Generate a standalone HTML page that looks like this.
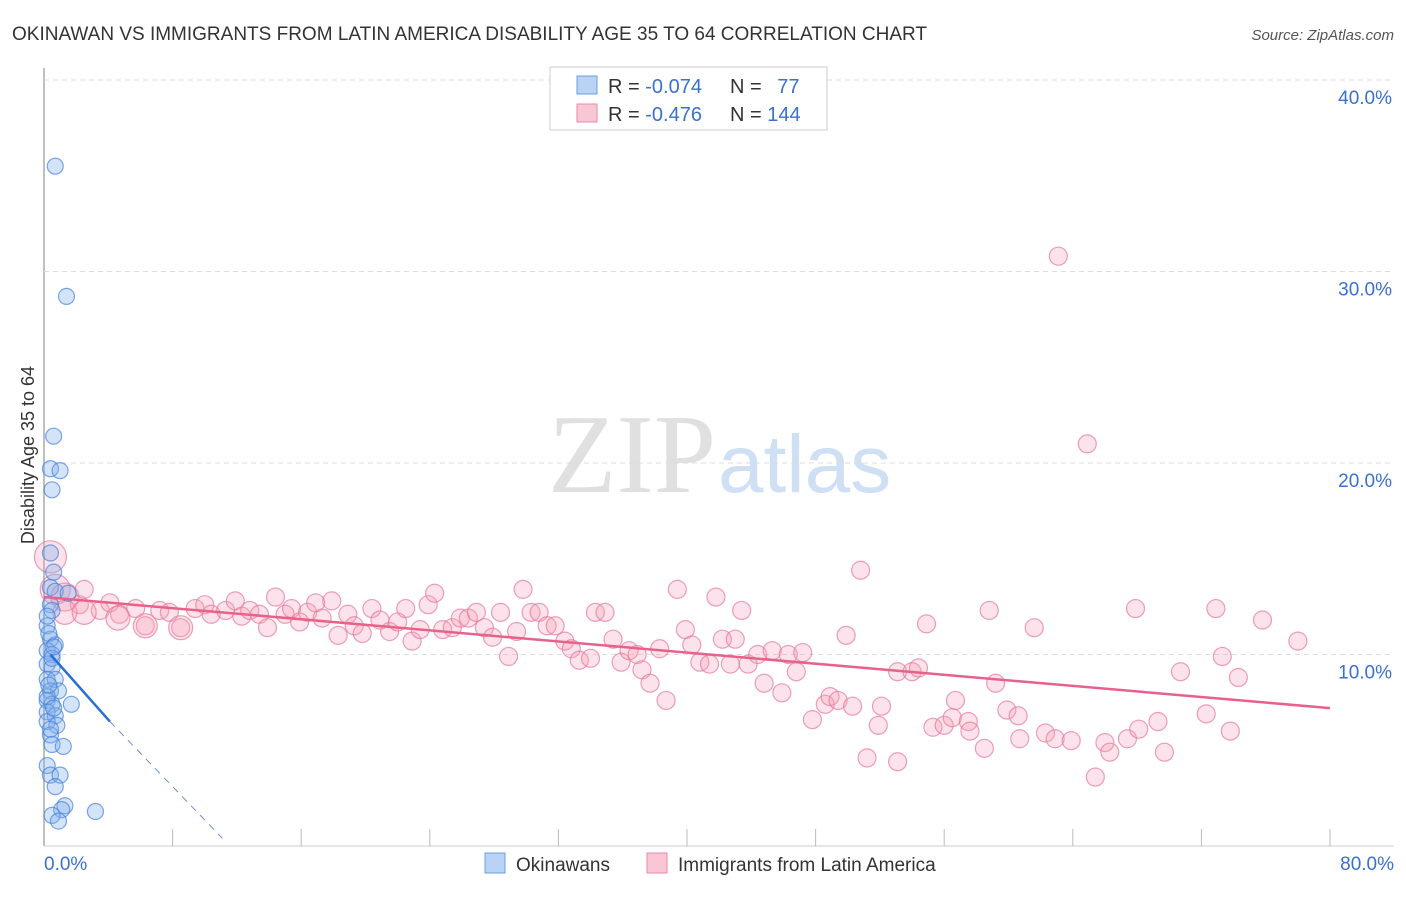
<!DOCTYPE html>
<html><head><meta charset="utf-8"><style>
body{margin:0;background:#fff;font-family:"Liberation Sans",sans-serif}
svg text{font-family:"Liberation Sans",sans-serif}
</style></head><body>
<svg id="c" width="1406" height="892" xmlns="http://www.w3.org/2000/svg">
<text x="12" y="40" font-size="19" fill="#333">OKINAWAN VS IMMIGRANTS FROM LATIN AMERICA DISABILITY AGE 35 TO 64 CORRELATION CHART</text>
<text x="1394" y="40" font-size="15" fill="#555" font-style="italic" text-anchor="end">Source: ZipAtlas.com</text>
<text x="716" y="492" font-size="112" fill="#e0e0e0" text-anchor="end" style="font-family:'Liberation Serif',serif">ZIP</text>
<text x="718" y="492" font-size="82" fill="#cfe0f4">atlas</text>
<text transform="translate(34,455) rotate(-90)" font-size="18" fill="#333" text-anchor="middle">Disability Age 35 to 64</text>
<g id="grid"></g><g id="pts"></g><g id="lines"></g>
<g>
<rect x="550" y="67" width="277" height="63" fill="#fff" stroke="#ccc"/>
<rect x="577" y="76" width="20" height="18" fill="#b8d3f5" stroke="#6d9de0"/>
<rect x="577" y="104" width="20" height="18" fill="#f8c6d4" stroke="#e88aa8"/>
<text x="608" y="93" font-size="20" fill="#333">R = <tspan fill="#3a70d0">-0.074</tspan></text>
<text x="730" y="93" font-size="20" fill="#333">N = <tspan fill="#3a70d0" dx="10">77</tspan></text>
<text x="608" y="121" font-size="20" fill="#333">R = <tspan fill="#3a70d0">-0.476</tspan></text>
<text x="730" y="121" font-size="20" fill="#333">N = <tspan fill="#3a70d0">144</tspan></text>
</g>
<g>
<rect x="485" y="853" width="20" height="20" fill="#b8d3f5" stroke="#6d9de0"/>
<text x="516" y="871" font-size="19" fill="#333">Okinawans</text>
<rect x="647" y="853" width="20" height="20" fill="#f8c6d4" stroke="#e88aa8"/>
<text x="678" y="871" font-size="19" fill="#333">Immigrants from Latin America</text>
</g>
</svg>
<script>
const blueX=[0.7,1.4,0.6,0.4,1.0,0.5,0.4,0.6,0.4,0.7,1.5,0.4,0.5,0.2,0.4,0.7,0.2,0.5,0.2,0.5,0.2,0.7,0.4,0.9,0.2,0.5,1.7,0.2,0.7,0.2,0.8,0.4,0.5,1.2,0.2,0.4,1.0,0.7,1.3,1.1,0.5,0.9,3.2,0.3,0.5,0.2,0.6,0.3,0.4,0.6,0.2];
const blueY=[35.5,28.7,21.4,19.7,19.6,18.6,15.3,14.3,13.5,13.3,13.2,12.6,12.3,11.5,10.8,10.5,10.2,10.0,9.5,9.3,8.7,8.7,8.1,8.1,7.6,7.4,7.4,7.0,6.8,6.5,6.3,5.8,5.3,5.2,4.2,3.7,3.7,3.1,2.1,1.9,1.6,1.3,1.8,11.1,9.8,7.8,7.2,8.4,6.1,10.4,12.0];
const pinkX=[0.4,0.7,1.3,2.2,2.5,3.5,4.1,4.7,5.7,6.3,7.2,7.8,8.5,9.4,10.0,10.4,11.3,11.9,12.3,12.8,13.4,13.9,14.4,15.0,15.4,15.9,16.4,16.9,17.3,17.9,18.3,18.9,19.3,19.8,20.4,20.9,21.5,22.0,22.5,22.9,23.4,23.9,24.3,24.8,25.4,25.9,26.4,26.9,27.4,27.9,28.4,28.9,29.4,29.8,30.3,30.8,31.3,31.8,32.4,32.8,33.3,34.0,34.3,34.9,35.4,35.9,36.4,36.9,37.2,37.7,38.3,38.7,39.4,39.9,40.3,40.8,41.4,41.8,42.2,42.7,43.0,43.4,43.8,44.4,44.8,45.3,45.9,46.3,46.8,47.2,47.8,48.6,48.9,49.4,49.9,50.3,50.8,51.2,51.9,52.1,53.1,53.1,54.0,54.4,54.9,55.3,56.0,56.5,56.7,57.5,57.6,58.5,58.8,59.2,59.9,60.6,60.7,61.6,62.3,63.1,62.9,63.9,64.9,65.4,66.0,66.3,67.4,67.9,68.1,69.3,69.7,70.7,72.3,72.9,73.3,73.8,74.3,75.8,78.0,1.3,2.5,4.6,6.3,8.5];
const pinkY=[15.1,13.4,13.0,12.6,13.4,12.3,12.7,12.1,12.4,11.5,12.3,12.2,11.4,12.4,12.6,12.1,12.3,12.8,12.0,12.3,12.1,11.4,13.0,12.1,12.4,11.7,12.2,12.7,11.9,12.8,11.0,12.1,11.5,11.1,12.4,11.8,11.2,11.7,12.4,10.7,11.3,12.6,13.2,11.3,11.4,11.9,11.9,12.2,11.4,10.9,12.2,9.9,11.2,13.4,12.2,12.2,11.5,11.5,10.7,10.3,9.7,9.8,12.2,12.2,10.8,9.6,10.2,10.0,9.2,8.5,10.3,7.6,13.4,11.3,10.5,9.6,9.5,13.0,10.8,9.5,10.8,12.3,9.5,10.0,8.5,10.2,8.0,10.0,9.1,10.1,6.6,7.4,7.8,7.6,11.0,7.3,14.4,4.6,6.3,7.3,9.1,4.4,9.1,9.3,11.6,6.2,6.3,6.7,7.6,6.5,6.0,5.1,12.3,8.5,7.1,6.8,5.6,11.4,5.9,30.8,5.6,5.5,21.0,3.6,5.4,4.9,5.6,12.4,6.1,6.5,4.9,9.1,6.9,12.4,9.9,6.0,8.8,11.8,10.7,12.2,12.2,11.9,11.5,11.4];
const pinkR=[16,15,14];
const yTicks=[10,20,30,40];
const xMin=0,xMax=80,yMin=0,yMax=40;
const blueLine=[-0.074,0.4,10.0,4.1,6.5,11.1,0.4];
const pinkLine=[0,13.0,80,7.2];
const NS="http://www.w3.org/2000/svg";
const X=v=>44+(v-xMin)/(xMax-xMin)*1286;
const Y=v=>846-(v-yMin)/(yMax-yMin)*766;
function mk(t,a,p){const e=document.createElementNS(NS,t);for(const k in a)e.setAttribute(k,a[k]);document.getElementById(p).appendChild(e);return e;}
const g='grid';
mk('line',{x1:44,y1:68,x2:44,y2:846,stroke:'#aaa','stroke-width':1.5},g);
mk('line',{x1:44,y1:846,x2:1394,y2:846,stroke:'#ccc'},g);
yTicks.forEach(t=>{
 const l=mk('line',{x1:44,y1:Y(t),x2:1394,y2:Y(t),stroke:'#ddd','stroke-dasharray':'5,4'},g);
 
 
 const tx=mk('text',{x:1392,y:Y(t)+24,'font-size':19,fill:'#3a70d0','text-anchor':'end'},g);
 tx.textContent=t.toFixed(1)+'%';
 
 
});
for(let i=1;i<=10;i++){const v=i*8;mk('line',{x1:X(v),y1:829,x2:X(v),y2:846,stroke:'#bbb'},g);}
const x0=mk('text',{x:44,y:870,'font-size':19,fill:'#3a70d0'},g);x0.textContent='0.0%';


const x1=mk('text',{x:1394,y:870,'font-size':19,fill:'#3a70d0','text-anchor':'end'},g);x1.textContent='80.0%';


pinkX.forEach((v,i)=>{
 const r=i<3?pinkR[i]:(i>=pinkX.length-5?12:9);
 const c=mk('circle',{cx:X(v),cy:Y(pinkY[i]),r:r,fill:'rgba(245,160,185,0.3)',stroke:'rgba(230,120,155,0.7)','stroke-width':1.2},'pts');
 
 
});
blueX.forEach((v,i)=>{
 const c=mk('circle',{cx:X(v),cy:Y(blueY[i]),r:8,fill:'rgba(130,175,235,0.35)',stroke:'rgba(70,130,220,0.7)','stroke-width':1.2},'pts');
 
 
});
const bl=mk('line',{x1:X(blueLine[1]),y1:Y(blueLine[2]),x2:X(blueLine[3]),y2:Y(blueLine[4]),stroke:'#2a6fd4','stroke-width':2.5},'lines');


const bd=mk('line',{x1:X(blueLine[3]),y1:Y(blueLine[4]),x2:X(blueLine[5]),y2:Y(blueLine[6]),stroke:'#6d8fd8','stroke-width':1,'stroke-dasharray':'7,6'},'lines');


const pl=mk('line',{x1:X(pinkLine[0]),y1:Y(pinkLine[1]),x2:X(pinkLine[2]),y2:Y(pinkLine[3]),stroke:'#e8618c','stroke-width':2.5},'lines');


</script>
</body></html>
